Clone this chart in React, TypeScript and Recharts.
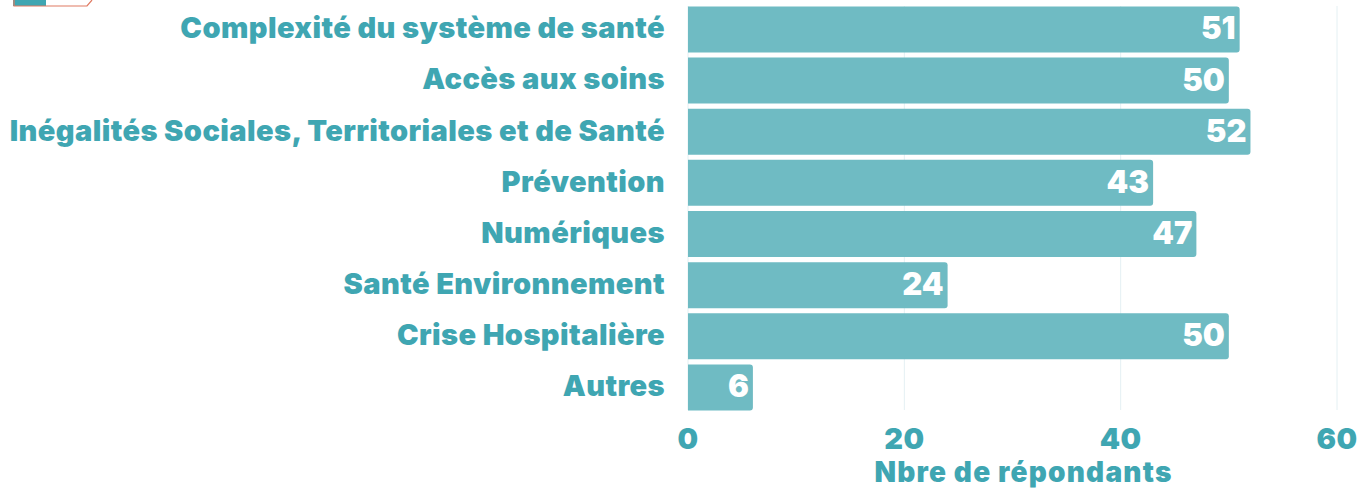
import { BarChart, Bar, XAxis, YAxis, CartesianGrid, LabelList } from "recharts";

const categories = [
  "Complexité du système de santé",
  "Accès aux soins",
  "Inégalités Sociales, Territoriales et de Santé",
  "Prévention",
  "Numériques",
  "Santé Environnement",
  "Crise Hospitalière",
  "Autres",
];
const values = [51, 50, 52, 43, 47, 24, 50, 6];
const xTicks = [0, 20, 40, 60];

const rows = categories.map((name, i) => ({ name, value: values[i] }));

const TEAL = "#3fa6b2";
const BAR = "#6fbbc3";
const FONT = "Inter, 'Open Sans', sans-serif";

export default function App() {
  return (
    <div style={{ position: "absolute", left: 0, top: 0, width: 1360, height: 488, overflow: "hidden" }}>
      {/* bit of the cropped icon at the top left */}
      <svg width={100} height={10} style={{ position: "absolute", left: 0, top: 0 }}>
        <rect x={13} y={-4} width={33} height={10} fill={TEAL} />
        <path d="M14 0V6H87L92 0" fill="none" stroke="#e07a62" strokeWidth={1.2} />
      </svg>
      <BarChart
        width={1360}
        height={488}
        data={rows}
        layout="vertical"
        margin={{ top: 6, right: 23, bottom: 0, left: 0 }}
      >
        <CartesianGrid horizontal={false} stroke="#e4f0f3" />
        <XAxis
          type="number"
          domain={[0, 60]}
          ticks={xTicks}
          height={78}
          axisLine={false}
          tickLine={false}
          tickMargin={12}
          tick={{ fill: TEAL, fontSize: 29, fontWeight: 900, fontFamily: FONT, letterSpacing: 0.5 }}
          label={{
            value: "Nbre de répondants",
            position: "insideBottom",
            offset: 6,
            dx: 11,
            fill: TEAL,
            fontSize: 28,
            fontWeight: 900,
            fontFamily: FONT,
            letterSpacing: 1.2,
          }}
        />
        <YAxis
          type="category"
          dataKey="name"
          width={688}
          axisLine={false}
          tickLine={false}
          tickMargin={17}
          interval={0}
          padding={{ top: -2.6, bottom: -2.6 }}
          tick={{ fill: TEAL, fontSize: 29, fontWeight: 900, fontFamily: FONT, letterSpacing: 0.42, dy: -1 }}
        />
        <Bar dataKey="value" fill={BAR} barSize={46} radius={[0, 3, 3, 0]} isAnimationActive={false}>
          <LabelList
            dataKey="value"
            position="insideRight"
            offset={4}
            dy={-1}
            fill="#ffffff"
            fontSize={31}
            fontWeight={900}
            fontFamily={FONT}
          />
        </Bar>
      </BarChart>
    </div>
  );
}
